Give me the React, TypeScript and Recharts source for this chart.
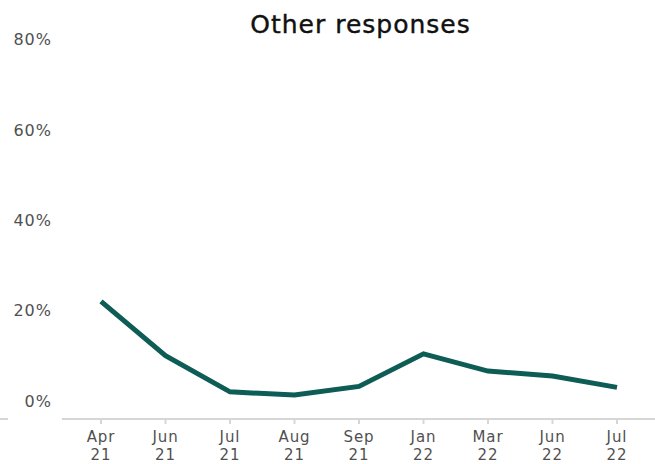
import React from "react";
import { LineChart, Line, XAxis, YAxis } from "recharts";

const months = ["Apr", "Jun", "Jul", "Aug", "Sep", "Jan", "Mar", "Jun", "Jul"];
const years = ["21", "21", "21", "21", "21", "22", "22", "22", "22"];
const otherValues = [22, 10, 2, 1.3, 3.2, 10.4, 6.6, 5.5, 3];
const yTicks = [0, 20, 40, 60, 80];

const data = months.map((m, i) => ({
  key: `${m} ${years[i]}`,
  value: otherValues[i],
}));

const FONT = "'DejaVu Sans', sans-serif";
const GREY = "#505050";

const XTick = (props: any) => {
  const { x, y, payload } = props;
  const [m, yr] = String(payload.value).split(" ");
  return (
    <g transform={`translate(${x},${y})`}>
      <text x={0} y={16} textAnchor="middle" fontFamily={FONT} fontSize={15} letterSpacing={0.9} fill={GREY}>
        {m}
      </text>
      <text x={0} y={34} textAnchor="middle" fontFamily={FONT} fontSize={15} letterSpacing={0.9} fill={GREY}>
        {yr}
      </text>
    </g>
  );
};

const YTick = (props: any) => {
  const { y, payload } = props;
  return (
    <text x={52} y={y} dy={6} textAnchor="end" fontFamily={FONT} fontSize={16} letterSpacing={1} fill={GREY}>
      {`${payload.value}%`}
    </text>
  );
};

export default function App() {
  return (
    <div style={{ position: "absolute", left: 0, top: 0, width: 655, height: 464, background: "#fff" }}>
      <div
        style={{
          position: "absolute",
          left: 64,
          width: 593,
          top: 10,
          textAlign: "center",
          fontFamily: FONT,
          fontSize: 25,
          letterSpacing: 1,
          lineHeight: "30px",
          color: "#111",
          WebkitTextStroke: "0.4px #111",
        }}
      >
        Other responses
      </div>
      <div style={{ position: "absolute", left: 0, top: 418, width: 8, height: 2, background: "#d6d6d6" }} />
      <LineChart width={655} height={464} data={data} margin={{ top: 21, right: 0, bottom: 0, left: 0 }}>
        <XAxis
          dataKey="key"
          padding={{ left: 39, right: 38 }}
          axisLine={{ stroke: "#d6d6d6", strokeWidth: 2 }}
          tickLine={{ stroke: "#d6d6d6", strokeWidth: 2 }}
          tickSize={5}
          tick={<XTick />}
          interval={0}
          height={45}
        />
        <YAxis
          width={62}
          domain={[-4, 84]}
          ticks={yTicks}
          axisLine={false}
          tickLine={false}
          tick={<YTick />}
          allowDataOverflow
        />
        <Line
          type="linear"
          dataKey="value"
          stroke="#0d5c55"
          strokeWidth={5}
          dot={false}
          isAnimationActive={false}
        />
      </LineChart>
    </div>
  );
}
